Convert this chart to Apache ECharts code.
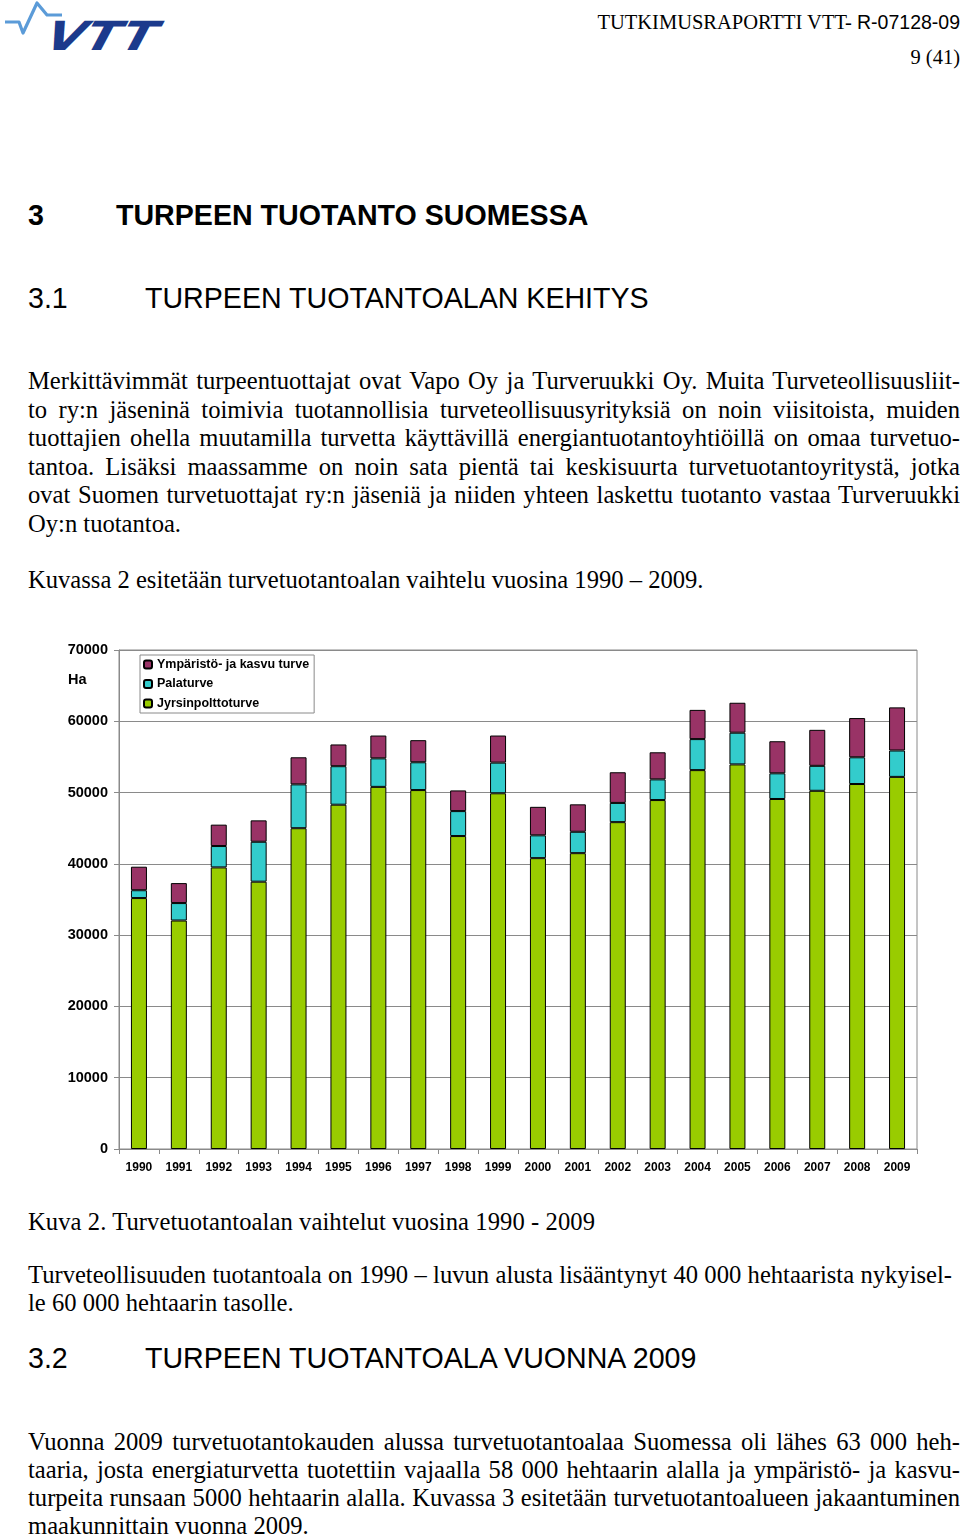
<!DOCTYPE html>
<html>
<head>
<meta charset="utf-8">
<script src="https://cdn.jsdelivr.net/npm/echarts@6/dist/echarts.min.js"></script>
<style>
  html, body { margin: 0; padding: 0; background: #fff; }
  body { width: 960px; height: 1536px; position: relative; overflow: hidden; color: #000; }
  .t { position: absolute; white-space: nowrap; font-family: "Liberation Serif", "Times New Roman", serif; font-size: 24.6px; line-height: 29px; }
  .h { position: absolute; white-space: nowrap; font-family: "Liberation Sans", Arial, sans-serif; font-size: 28.6px; line-height: 32px; }
  .hdr { position: absolute; right: 0; white-space: nowrap; font-family: "Liberation Serif", "Times New Roman", serif; font-size: 20.5px; line-height: 24px; }
  #chart { position: absolute; left: 0; top: 630px; width: 960px; height: 560px; }
</style>
</head>
<body>
<svg style="position:absolute;left:0;top:0" width="170" height="60">
  <polyline points="5,22 19,22 23,33 37,3 47,15 62,15" fill="none" stroke="#5b9bd8" stroke-width="3.2" stroke-linejoin="round"/>
  <text x="40" y="50" font-family="DejaVu Sans, sans-serif" font-weight="bold" font-size="40" fill="#1c3a8c" textLength="110" lengthAdjust="spacingAndGlyphs" transform="skewX(-28) translate(26,0)">VTT</text>
</svg>
<div class="hdr" style="top:10px">TUTKIMUSRAPORTTI VTT- <span style="font-family:'Liberation Sans',Arial,sans-serif;font-size:19.5px">R-07128-09</span></div>
<div class="hdr" style="top:45px">9 (41)</div>

<div class="h" style="left:28px;top:199px;font-weight:bold">3</div>
<div class="h" style="left:116px;top:199px;font-weight:bold">TURPEEN TUOTANTO SUOMESSA</div>
<div class="h" style="left:28px;top:282px">3.1</div>
<div class="h" style="left:145px;top:282px">TURPEEN TUOTANTOALAN KEHITYS</div>

<div class="t j" data-w="932" style="left:28px;top:366px">Merkittävimmät turpeentuottajat ovat Vapo Oy ja Turveruukki Oy. Muita Turveteollisuusliit-</div>
<div class="t j" data-w="932" style="left:28px;top:395px">to ry:n jäseninä toimivia tuotannollisia turveteollisuusyrityksiä on noin viisitoista, muiden</div>
<div class="t j" data-w="932" style="left:28px;top:423px">tuottajien ohella muutamilla turvetta käyttävillä energiantuotantoyhtiöillä on omaa turvetuo-</div>
<div class="t j" data-w="932" style="left:28px;top:452px">tantoa. Lisäksi maassamme on noin sata pientä tai keskisuurta turvetuotantoyritystä, jotka</div>
<div class="t j" data-w="932" style="left:28px;top:480px">ovat Suomen turvetuottajat ry:n jäseniä ja niiden yhteen laskettu tuotanto vastaa Turveruukki</div>
<div class="t" style="left:28px;top:509px">Oy:n tuotantoa.</div>

<div class="t" style="left:28px;top:565px">Kuvassa 2 esitetään turvetuotantoalan vaihtelu vuosina 1990 – 2009.</div>

<div id="chart"></div>

<div class="t" data-ls="567" style="left:28px;top:1207px">Kuva 2. Turvetuotantoalan vaihtelut vuosina 1990 - 2009</div>

<div class="t j" data-w="924" style="left:28px;top:1260px">Turveteollisuuden tuotantoala on 1990 – luvun alusta lisääntynyt 40 000 hehtaarista nykyisel-</div>
<div class="t" style="left:28px;top:1288px">le 60 000 hehtaarin tasolle.</div>

<div class="h" style="left:28px;top:1342px">3.2</div>
<div class="h" style="left:145px;top:1342px">TURPEEN TUOTANTOALA VUONNA 2009</div>

<div class="t j" data-w="932" style="left:28px;top:1427px">Vuonna 2009 turvetuotantokauden alussa turvetuotantoalaa Suomessa oli lähes 63 000 heh-</div>
<div class="t j" data-w="932" style="left:28px;top:1455px">taaria, josta energiaturvetta tuotettiin vajaalla 58 000 hehtaarin alalla ja ympäristö- ja kasvu-</div>
<div class="t j" data-w="932" style="left:28px;top:1483px">turpeita runsaan 5000 hehtaarin alalla. Kuvassa 3 esitetään turvetuotantoalueen jakaantuminen</div>
<div class="t" style="left:28px;top:1511px">maakunnittain vuonna 2009.</div>

<script>
// ---- data ----
var years = ['1990','1991','1992','1993','1994','1995','1996','1997','1998','1999',
             '2000','2001','2002','2003','2004','2005','2006','2007','2008','2009'];
var jyrsinpolttoturve = [35200, 32050, 39500, 37500, 45000, 48300, 50800, 50350, 43900, 49900,
                         40800, 41500, 45850, 48950, 53150, 53950, 49100, 50250, 51200, 52200];
var palaturve = [1100, 2450, 3000, 5600, 6150, 5400, 4000, 3900, 3500, 4300,
                 3200, 3000, 2700, 2900, 4350, 4450, 3600, 3500, 3750, 3700];
var ymparistoJaKasvu = [3300, 2800, 3000, 3000, 3800, 3050, 3200, 3100, 2900, 3800,
                        4000, 3850, 4300, 3800, 4100, 4200, 4500, 5050, 5500, 6050];
var yTicks = { min: 0, max: 70000, interval: 10000 };
var seriesNames = ['Ympäristö- ja kasvu turve', 'Palaturve', 'Jyrsinpolttoturve'];
var yUnit = 'Ha';

// ---- text fitting (justify lines exactly) ----
document.querySelectorAll('.t.j').forEach(function (el) {
  var target = parseFloat(el.getAttribute('data-w'));
  var natural = el.getBoundingClientRect().width;
  var spaces = (el.textContent.match(/ /g) || []).length;
  if (spaces > 0) el.style.wordSpacing = ((target - natural) / spaces) + 'px';
});
document.querySelectorAll('[data-ls]').forEach(function (el) {
  var target = parseFloat(el.getAttribute('data-ls'));
  var natural = el.getBoundingClientRect().width;
  var n = el.textContent.length;
  el.style.letterSpacing = ((target - natural) / n) + 'px';
});

// ---- chart ----
var font = '"Liberation Sans", Arial, sans-serif';
var chart = echarts.init(document.getElementById('chart'), null, { renderer: 'canvas' });
var barStyle = function (c) { return { color: c, borderColor: '#000', borderWidth: 1 }; };
chart.setOption({
  animation: false,
  textStyle: { fontFamily: font },
  grid: { left: 119, right: 43, top: 20, bottom: 41, show: true, borderColor: '#8a8a8a', borderWidth: 1 },
  legend: {
    orient: 'vertical', left: 140, top: 25,
    data: seriesNames,
    itemWidth: 8, itemHeight: 8, itemGap: 5.5,
    padding: [2.5, 5, 2.5, 3],
    borderColor: '#8a8a8a', borderWidth: 1,
    textStyle: { fontFamily: font, fontWeight: 'bold', fontSize: 12.5, color: '#000', lineHeight: 14 },
    selectedMode: false
  },
  graphic: [{ type: 'text', left: 68, top: 42, style: { text: yUnit, fontFamily: font, fontWeight: 'bold', fontSize: 14.5, fill: '#000' } }],
  xAxis: {
    type: 'category', data: years,
    axisLine: { lineStyle: { color: '#8a8a8a' } },
    axisTick: { show: true, length: 5, interval: 0, lineStyle: { color: '#8a8a8a' } },
    axisLabel: { interval: 0, margin: 13, fontFamily: font, fontWeight: 'bold', fontSize: 12, color: '#000' }
  },
  yAxis: {
    type: 'value', min: yTicks.min, max: yTicks.max, interval: yTicks.interval,
    axisLine: { show: true, lineStyle: { color: '#8a8a8a' } },
    axisTick: { show: true, length: 5, lineStyle: { color: '#8a8a8a' } },
    splitLine: { lineStyle: { color: '#8a8a8a', width: 1 } },
    axisLabel: { margin: 11, fontFamily: font, fontWeight: 'bold', fontSize: 14.5, color: '#000',
                 formatter: function (v) { return String(v); } }
  },
  series: [
    { name: seriesNames[2], type: 'bar', stack: 'a', barWidth: 16, data: jyrsinpolttoturve, itemStyle: barStyle('#99cc00') },
    { name: seriesNames[1], type: 'bar', stack: 'a', barWidth: 16, data: palaturve, itemStyle: barStyle('#33cccc') },
    { name: seriesNames[0], type: 'bar', stack: 'a', barWidth: 16, data: ymparistoJaKasvu, itemStyle: barStyle('#993366') }
  ]
});
</script>
</body>
</html>
